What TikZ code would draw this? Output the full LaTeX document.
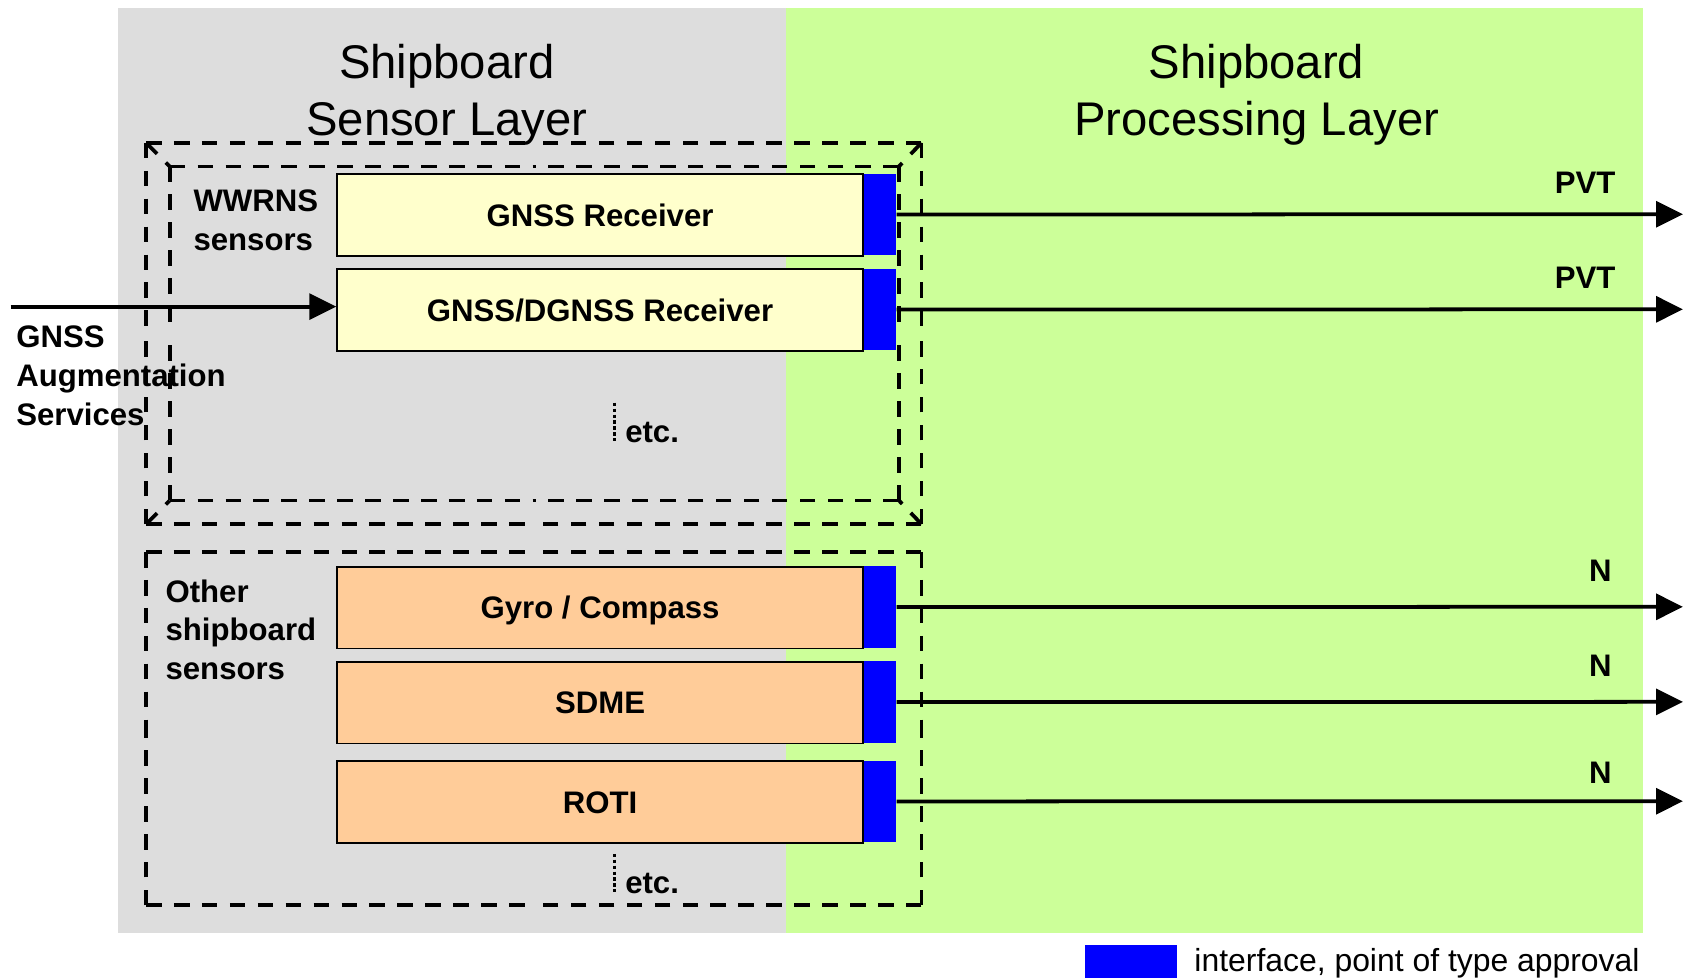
\documentclass[tikz,border=0pt]{standalone}
\usepackage{fontspec}
\setmainfont{Liberation Sans}
\usetikzlibrary{arrows.meta}
\definecolor{sensorgray}{HTML}{DDDDDD}
\definecolor{procgreen}{HTML}{CCFF99}
\definecolor{gnssyellow}{HTML}{FFFFCC}
\definecolor{sensororange}{HTML}{FFCC99}
\definecolor{ifblue}{HTML}{0000FF}
\newcommand\lblfont{\bfseries\fontsize{29}{36}\selectfont}
\newcommand\ttlfont{\fontsize{44}{53}\selectfont}
\newcommand\legfont{\fontsize{29.7}{36}\selectfont}
\begin{document}
\begin{tikzpicture}[x=1pt,y=-1pt,
  unitbox/.style={draw=black,line width=1.5pt,minimum width=490pt,minimum height=76pt,
    inner sep=0pt,anchor=north west,font=\lblfont,text height=20.8pt,text depth=0pt},
  ifbox/.style={fill=ifblue,draw=none,minimum width=30pt,minimum height=76pt,
    inner sep=0pt,anchor=north west},
  dashframe/.style={draw=black,line width=3.5pt,dash pattern=on 14.5pt off 11.5pt},
  flow/.style={draw=black,line width=3.5pt,-{Triangle[length=25pt,width=24pt]}},
  lbl/.style={font=\lblfont,align=left,inner sep=0pt,anchor=north west},
  ttl/.style={font=\ttlfont,align=center,inner sep=0pt,anchor=north},
  tag/.style={font=\lblfont,inner sep=0pt},
  etcline/.style={draw=black,line width=2.5pt,dash pattern=on 3pt off 2.5pt}
]
\useasboundingbox (0,0) rectangle (1568,910);

% layer backgrounds
\fill[sensorgray] (110,7) rectangle (732,869);
\fill[procgreen] (732,7) rectangle (1530,869);

% layer titles
\node[ttl] (senstitle) at (416,41) {Shipboard\\Sensor Layer};
\node[ttl] (proctitle) at (1170,41) {Shipboard\\Processing Layer};

% WWRNS group: bevelled double frame, each side drawn from its corners
\foreach \ax/\ay/\bx/\by in {136/133/858/133, 136/488/858/488, 136/133/136/488, 858/133/858/488,
                             158/155/837/155, 158/466/837/466, 158/155/158/466, 837/155/837/466}{
  \draw[dashframe] (\ax,\ay) -- ({(\ax+\bx)/2},{(\ay+\by)/2});
  \draw[dashframe] (\bx,\by) -- ({(\ax+\bx)/2},{(\ay+\by)/2});
}
\draw[dashframe] (136,133) -- (158,155);
\draw[dashframe] (858,133) -- (837,155);
\draw[dashframe] (136,488) -- (158,466);
\draw[dashframe] (858,488) -- (837,466);

% other sensors group
\foreach \ax/\ay/\bx/\by in {136/514/858/514, 136/843/858/843, 136/514/136/843, 858/514/858/843}{
  \draw[dashframe] (\ax,\ay) -- ({(\ax+\bx)/2},{(\ay+\by)/2});
  \draw[dashframe] (\bx,\by) -- ({(\ax+\bx)/2},{(\ay+\by)/2});
}

% group labels
\node[lbl] (wwrns) at (180,176.5) {WWRNS\\sensors};
\node[lbl] (other) at (154,539.5) {Other\\shipboard\\sensors};
\node[lbl] (aug) at (15,303.5) {GNSS\\Augmentation\\Services};

% sensor units with their interface points
\node[unitbox,fill=gnssyellow] (gnss) at (313,161.5) {GNSS Receiver};
\node[ifbox] (gnssif) at (gnss.north east) {};
\node[unitbox,fill=gnssyellow] (dgnss) at (313,250) {GNSS/DGNSS Receiver};
\node[ifbox] (dgnssif) at (dgnss.north east) {};
\node[unitbox,fill=sensororange] (gyro) at (313,527) {Gyro / Compass};
\node[ifbox] (gyroif) at (gyro.north east) {};
\node[unitbox,fill=sensororange] (sdme) at (313,615.5) {SDME};
\node[ifbox] (sdmeif) at (sdme.north east) {};
\node[unitbox,fill=sensororange] (roti) at (313,708) {ROTI};
\node[ifbox] (rotiif) at (roti.north east) {};

% continuation marks
\draw[etcline] (572,375) -- (572,412);
\node[font=\lblfont,inner sep=0pt,anchor=base west] (etcA) at (582,412) {etc.};
\draw[etcline] (572,795) -- (572,832);
\node[font=\lblfont,inner sep=0pt,anchor=base west] (etcB) at (582,832) {etc.};

% augmentation input
\coordinate (augin) at (10,285.5);
\draw[flow] (augin) -- (augin -| dgnss.west);

% outputs to the processing layer
\coordinate (gnssout) at (1567,199.5);
\coordinate (dgnssout) at (1567,288);
\coordinate (gyroout) at (1567,565);
\coordinate (sdmeout) at (1567,653.5);
\coordinate (rotiout) at (1567,746);
\draw[flow] (gnssif.east) -- (gnssout);
\draw[flow] (dgnssif.east) -- (dgnssout);
\draw[flow] (gyroif.east) -- (gyroout);
\draw[flow] (sdmeif.east) -- (sdmeout);
\draw[flow] (rotiif.east) -- (rotiout);

\node[tag] (pvtA) at (1476,170) {PVT};
\node[tag] (pvtB) at (1476,259) {PVT};
\node[tag] (nA) at (1490,531) {N};
\node[tag] (nB) at (1490,620) {N};
\node[tag] (nC) at (1490,720) {N};

% legend
\node[fill=ifblue,draw=none,minimum width=86pt,minimum height=30pt,inner sep=0pt,anchor=north west]
  (legif) at (1010,880) {};
\node[font=\legfont,inner sep=0pt,anchor=base west] (legtext) at (1112,905) {interface, point of type approval};
\end{tikzpicture}
\end{document}
